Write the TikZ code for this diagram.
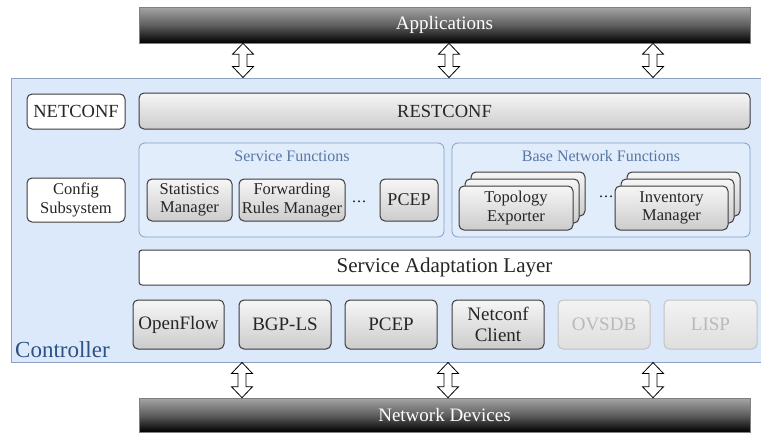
\documentclass[tikz,border=0pt]{standalone}
\usepackage{fontspec}
\setmainfont{Liberation Serif}
\definecolor{ctrlfill}{RGB}{220,233,250}
\definecolor{ctrlline}{RGB}{140,162,192}
\definecolor{grpfill}{RGB}{226,237,252}
\definecolor{grpline}{RGB}{130,158,198}
\definecolor{grptext}{RGB}{88,118,165}
\definecolor{ctrltext}{RGB}{42,82,132}
\definecolor{boxtop}{RGB}{246,246,246}
\definecolor{boxbot}{RGB}{204,204,204}
\definecolor{boxline}{RGB}{60,60,60}
\definecolor{fadetop}{RGB}{243,243,243}
\definecolor{fadebot}{RGB}{222,222,222}
\definecolor{fadeline}{RGB}{195,195,195}
\definecolor{fadetext}{RGB}{185,185,185}
\definecolor{bartop}{RGB}{165,165,165}
\definecolor{barmid}{RGB}{95,95,95}
\newcommand\fs[2]{\fontsize{#1}{#2}\selectfont}
\newcommand\harrow[3]{%
  \path[draw=black, fill=white, line width=0.8pt] let \p1=(#2.south), \p2=(#3.north) in
    ({#1pt},\y1) -- ({#1pt+10.5pt},{\y1-11pt}) -- ({#1pt+4pt},{\y1-11pt}) --
    ({#1pt+4pt},{\y2+11pt}) -- ({#1pt+10.5pt},{\y2+11pt}) -- ({#1pt},\y2) --
    ({#1pt-10.5pt},{\y2+11pt}) -- ({#1pt-4pt},{\y2+11pt}) -- ({#1pt-4pt},{\y1-11pt}) --
    ({#1pt-10.5pt},{\y1-11pt}) -- cycle;}
\usetikzlibrary{calc}
\tikzset{
  box/.style={draw=boxline, line width=1pt, rounded corners=5pt, top color=boxtop, bottom color=boxbot, inner sep=0pt, align=center, text=black!85},
  wbox/.style={draw=boxline, line width=1pt, rounded corners=5pt, fill=white, inner sep=0pt, align=center, text=black!85},
  fadebox/.style={draw=fadeline, line width=1pt, rounded corners=5pt, top color=fadetop, bottom color=fadebot, inner sep=0pt, align=center, text=fadetext},
  bar/.style={draw=gray, line width=0.6pt, top color=bartop, bottom color=black, middle color=barmid, inner sep=0pt, text=white},
  grp/.style={draw=grpline, line width=0.8pt, rounded corners=6pt, fill=grpfill, inner sep=0pt},
  grplabel/.style={text=grptext, inner sep=0pt, font=\fs{16}{18}},
}
\begin{document}
\begin{tikzpicture}[x=1pt, y=-1pt]
\clip (0,0) rectangle (761,434);
\fill[white] (0,0) rectangle (761,434);
% bars
\node[bar, minimum width=611pt, minimum height=36pt, font=\fs{19}{22}] (app) at (444.5,25) {Applications};
\node[bar, minimum width=611pt, minimum height=34pt, font=\fs{19}{22}] (nd) at (444.5,415) {Network Devices};
% controller
\node[draw=ctrlline, fill=ctrlfill, line width=1pt, minimum width=764pt, minimum height=284pt, inner sep=0pt] (ctrl) at (393,220) {};
\node[anchor=base west, text=ctrltext, font=\fs{23}{26}, inner sep=0pt] (ctrllabel) at (15,357) {Controller};
% top row
\node[wbox, minimum width=98pt, minimum height=35pt, font=\fs{18.5}{21}] (netconf) at (76,111.5) {NETCONF};
\node[box, minimum width=611pt, minimum height=36pt, font=\fs{18.5}{21}] (restconf) at (444.5,111) {RESTCONF};
% groups
\node[grp, minimum width=305pt, minimum height=94pt] (sfgrp) at (291.5,190) {};
\node[grp, minimum width=298pt, minimum height=94pt] (bnfgrp) at (601,190) {};
\node[grplabel] (sflabel) at (292,156) {Service Functions};
\node[grplabel] (bnflabel) at (601,156) {Base Network Functions};
% config
\node[wbox, minimum width=98pt, minimum height=44pt, font=\fs{16.5}{18.5}] (config) at (76,200) {Config\\Subsystem};
% service functions
\node[box, minimum width=85pt, minimum height=42pt, font=\fs{16.5}{18.5}] (stat) at (189.5,200) {Statistics\\Manager};
\node[box, minimum width=106pt, minimum height=42pt, font=\fs{16.5}{18.5}] (frm) at (292,200) {Forwarding\\Rules Manager};
\node[font=\fs{15}{17}, inner sep=0pt] (dots1) at (359,202) {\dots};
\node[box, minimum width=58pt, minimum height=42pt, font=\fs{18}{20}] (pcepsf) at (409,200) {PCEP};
% base network functions
\node[box, minimum width=114pt, minimum height=44pt] (topo3) at (528,194) {};
\node[box, minimum width=114pt, minimum height=44pt] (topo2) at (522,201) {};
\node[box, minimum width=114pt, minimum height=44pt, font=\fs{16.5}{18.5}] (topo) at (516,208) {Topology\\Exporter};
\node[font=\fs{15}{17}, inner sep=0pt] (dots2) at (606,197) {\dots};
\node[box, minimum width=113pt, minimum height=44pt] (inv3) at (683.5,194) {};
\node[box, minimum width=113pt, minimum height=44pt] (inv2) at (677.5,201) {};
\node[box, minimum width=113pt, minimum height=44pt, font=\fs{16.5}{18.5}] (inv) at (671.5,208) {Inventory\\Manager};
% SAL
\node[wbox, rounded corners=3pt, minimum width=611pt, minimum height=35pt, font=\fs{21}{24}] (sal) at (444.5,267.5) {Service Adaptation Layer};
% bottom row
\node[box, minimum width=91pt, minimum height=49pt, font=\fs{19}{21}] (openflow) at (178.5,324.5) {OpenFlow};
\node[box, minimum width=92pt, minimum height=49pt, font=\fs{19}{21}] (bgpls) at (285,324.5) {BGP-LS};
\node[box, minimum width=92pt, minimum height=49pt, font=\fs{19}{21}] (pcep) at (391,324.5) {PCEP};
\node[box, minimum width=92pt, minimum height=49pt, font=\fs{19}{21}] (ncclient) at (498,324.5) {Netconf\\Client};
\node[fadebox, minimum width=92pt, minimum height=49pt, font=\fs{19}{21}] (ovsdb) at (604,324.5) {OVSDB};
\node[fadebox, minimum width=93pt, minimum height=49pt, font=\fs{19}{21}] (lisp) at (710.5,324.5) {LISP};
% arrows
\harrow{243}{app}{ctrl}
\harrow{449}{app}{ctrl}
\harrow{653}{app}{ctrl}
\harrow{242}{ctrl}{nd}
\harrow{448}{ctrl}{nd}
\harrow{653}{ctrl}{nd}
\end{tikzpicture}
\end{document}
